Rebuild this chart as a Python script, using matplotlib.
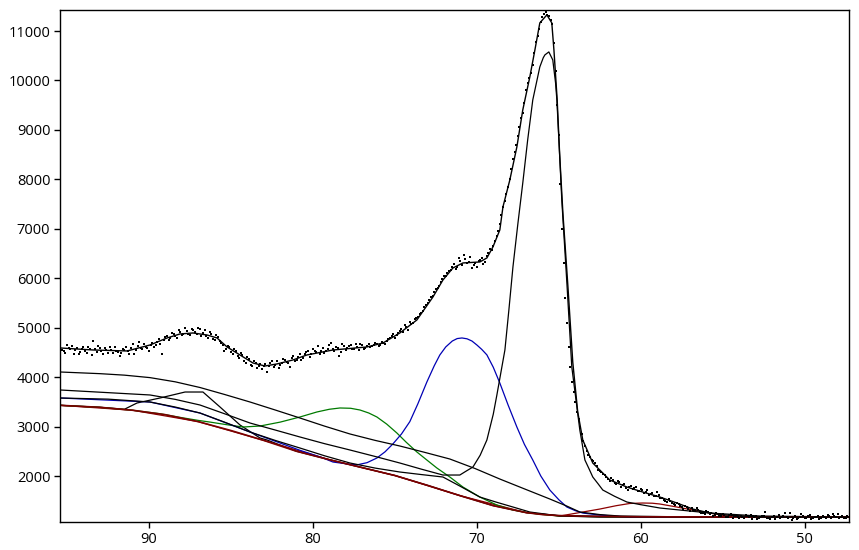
import numpy as np
import matplotlib.pyplot as plt

plt.rcParams['font.family'] = ['Open Sans', 'DejaVu Sans']

# measured counts, 0.2 eV steps starting at 95.4 eV (going down)
start_energy = 95.4
energy_step = 0.2
counts = [
    4600, 4520, 4640, 4560, 4470, 4590, 4510, 4600, 4480, 4560,
    4740, 4500, 4580, 4470, 4550, 4610, 4490, 4530, 4430, 4570,
    4600, 4470, 4680, 4540, 4720, 4560, 4610, 4520, 4700, 4640,
    4780, 4470, 4820, 4760, 4900, 4830, 4960, 4850, 4990, 4880,
    4980, 4920, 5000, 4840, 4950, 4800, 4880, 4760, 4810, 4700,
    4520, 4620, 4500, 4560, 4420, 4480, 4330, 4400, 4250, 4330,
    4180, 4260, 4220, 4100, 4290, 4200, 4330, 4250, 4370, 4300,
    4200, 4420, 4350, 4470, 4380, 4500, 4410, 4560, 4500, 4460,
    4590, 4520, 4640, 4560, 4600, 4420, 4680, 4550, 4620, 4570,
    4680, 4540, 4640, 4580, 4680, 4620, 4700, 4630, 4720, 4680,
    4770, 4840, 4790, 4900, 4980, 5050, 4960, 5080, 5170, 5220,
    5300, 5420, 5490, 5620, 5730, 5800, 5920, 6050, 6100, 6170,
    6280, 6220, 6350, 6480, 6300, 6420, 6260, 6230, 6360, 6280,
    6450, 6600, 6660, 6850, 7100, 7450, 7700, 8000, 8420, 8700,
    9050, 9350, 9800, 10050, 10320, 10780, 11050, 11280, 11390, 11300,
    11150, 10200, 8900, 7000, 5600, 4600, 3900, 3500, 3150, 2850,
    2600, 2420, 2330, 2260, 2130, 2080, 2020, 1930, 1960, 1860,
    1900, 1780, 1830, 1720, 1800, 1760, 1700, 1740, 1660, 1720,
    1640, 1600, 1680, 1560, 1520, 1480, 1500, 1430, 1460, 1400,
    1340, 1380, 1300, 1310, 1360, 1270, 1250, 1300, 1230, 1200,
    1260, 1190, 1230, 1180, 1220, 1160, 1200, 1150, 1180, 1220,
    1170, 1130, 1200, 1160, 1190, 1270, 1150, 1180, 1140, 1210,
    1170, 1250, 1160, 1120, 1190, 1160, 1240, 1150, 1190, 1130,
    1170, 1200, 1150, 1180, 1220, 1160, 1190, 1240, 1170, 1150,
    1190,
]

# the in-between channels, starting at 95.3 eV
start_energy_mid = 95.3
counts_mid = [
    4550, 4480, 4590, 4620, 4540, 4470, 4560, 4520, 4600, 4450,
    4560, 4620, 4520, 4580, 4480, 4540, 4600, 4510, 4480, 4550,
    4520, 4590, 4470, 4620, 4580, 4660, 4590, 4650, 4610, 4720,
    4680, 4750, 4840, 4800, 4880, 4800, 4920, 4870, 4940, 4860,
    4950, 4880, 4970, 4890, 4830, 4920, 4780, 4850, 4740, 4640,
    4560, 4600, 4470, 4520, 4390, 4450, 4290, 4360, 4220, 4290,
    4230, 4170, 4260, 4220, 4320, 4240, 4180, 4290, 4350, 4280,
    4390, 4320, 4400, 4350, 4470, 4530, 4460, 4520, 4620, 4530,
    4480, 4570, 4690, 4520, 4590, 4500, 4620, 4580, 4650, 4560,
    4610, 4660, 4570, 4630, 4600, 4650, 4680, 4640, 4700, 4740,
    4800, 4880, 4850, 4940, 4920, 5020, 5110, 5100, 5200, 5280,
    5330, 5460, 5560, 5640, 5780, 5840, 5990, 6040, 6150, 6220,
    6190, 6410, 6260, 6380, 6330, 6210, 6300, 6340, 6400, 6330,
    6520, 6580, 6750, 6950, 7280, 7560, 7850, 8200, 8550, 8880,
    9250, 9550, 9950, 10150, 10550, 10900, 11180, 11340, 11330, 11220,
    10750, 9500, 7900, 6300, 5100, 4200, 3700, 3300, 3000, 2700,
    2500, 2380, 2300, 2200, 2110, 2050, 1990, 1900, 1920, 1830,
    1870, 1810, 1760, 1780, 1730, 1770, 1690, 1720, 1680, 1610,
    1660, 1590, 1620, 1550, 1500, 1530, 1460, 1420, 1440, 1370,
    1400, 1330, 1350, 1290, 1320, 1260, 1230, 1270, 1250, 1210,
    1230, 1200, 1210, 1170, 1240, 1190, 1170, 1200, 1160, 1190,
    1210, 1170, 1140, 1180, 1200, 1160, 1130, 1190, 1170, 1150,
    1200, 1180, 1260, 1160, 1140, 1180, 1200, 1160, 1220, 1150,
    1180, 1140, 1190, 1160, 1200, 1230, 1170, 1150, 1200, 1160,
]

# fitted envelope
env_x = [95.43, 93.41, 91.34, 89.94, 88.90, 88.11, 87.32, 86.46, 85.85, 85.24,
         84.45, 83.66, 82.93, 82.20, 81.22, 80.37, 78.78, 76.71, 75.73, 74.70,
         73.66, 72.68, 72.07, 71.46, 70.85, 69.82, 69.39, 69.02, 68.60, 68.41,
         67.99, 67.56, 67.20, 66.77, 66.46, 66.16, 65.73, 65.43, 65.30, 65.10,
         64.95, 64.75, 64.45, 64.15, 63.85, 63.54, 62.93, 61.89, 60.85, 59.88,
         58.84, 57.80, 56.83, 55.79, 54.76, 52.74, 47.32]
env_y = [4590, 4549, 4529, 4650, 4792, 4873, 4893, 4852, 4792, 4610,
         4448, 4286, 4225, 4266, 4347, 4448, 4549, 4610, 4690, 4893,
         5156, 5621, 5965, 6208, 6309, 6329, 6410, 6633, 6977, 7442,
         7988, 8656, 9404, 10072, 10618, 11164, 11326, 11164, 10618, 9600,
         8500, 7300, 5850, 4300, 3300, 2728, 2263, 1919, 1777, 1676,
         1575, 1454, 1332, 1251, 1211, 1170, 1170]

# background
bg_x = [95.43, 93, 91, 89, 87, 85, 83, 81, 79, 77, 75, 73, 71, 69, 67, 66, 65, 63, 60, 47.32]
bg_y = [3430, 3390, 3330, 3240, 3100, 2920, 2720, 2500, 2330, 2170, 2010, 1810, 1600, 1400,
        1260, 1220, 1200, 1185, 1175, 1170]

# broad component (top black line)
c1_x = [95.43, 92.99, 91.5, 89.94, 88.4, 86.89, 85.4, 83.84, 82.3, 80.79,
        79.3, 77.74, 76.2, 74.70, 73.2, 71.65, 70.1, 68.60, 67.1, 65.55,
        64.5, 63.72, 62.5, 61.28, 56.40, 47.32]
c1_y = [4104, 4070, 4040, 3990, 3905, 3790, 3650, 3497, 3335, 3173,
        3010, 2850, 2720, 2607, 2480, 2344, 2150, 1939, 1740, 1535,
        1390, 1272, 1220, 1191, 1170, 1170]

# main peak ~65.6 eV
c2_x = [95.43, 89.94, 88.4, 86.89, 85.4, 83.84, 82.3, 80.79, 79.3, 77.74,
        76.2, 74.70, 73.4, 72.07, 71.04, 70.7, 70.24, 69.8, 69.39, 69.0,
        68.78, 68.29, 68.05, 67.80, 67.5, 67.20, 66.9, 66.59, 66.16, 65.95,
        65.85, 65.61, 65.37, 65.2, 65.12, 64.95, 64.82, 64.65, 64.51, 64.35,
        64.21, 63.95, 63.72, 63.55, 63.41, 63.15, 62.93, 62.6, 62.32, 61.6,
        60.85, 60.0, 58.84, 55.79, 52.74, 47.32]
c2_y = [3740, 3639, 3550, 3436, 3260, 3072, 2930, 2789, 2655, 2526,
        2395, 2263, 2140, 2020, 2020, 2090, 2182, 2420, 2728, 3250,
        3639, 4549, 5350, 6228, 7100, 7927, 8800, 9606, 10274, 10460,
        10517, 10577, 10415, 9950, 9606, 8480, 7583, 6660, 5904, 5000,
        4205, 3530, 2930, 2600, 2324, 2140, 1980, 1840, 1717, 1590,
        1474, 1420, 1353, 1251, 1191, 1170]

# third black component
c3_x = [95.43, 92.5, 89.94, 88.4, 86.89, 85.4, 83.84, 82.3, 80.79, 79.3,
        77.74, 76.2, 74.70, 73.4, 72.07, 71.0, 69.82, 68.8, 67.80, 66.77,
        64.94, 62.50, 47.32]
c3_y = [3578, 3555, 3497, 3395, 3274, 3090, 2890, 2720, 2566, 2410,
        2263, 2160, 2081, 2030, 1980, 1790, 1575, 1470, 1373, 1272,
        1191, 1170, 1170]

# small peak ~87 eV
c4_x = [95.43, 93, 91.5, 90.73, 89.33, 87.80, 86.71, 85.67, 84.45, 83.23,
        82.80, 82.01, 81, 79, 77, 75, 73, 71, 69, 67, 65, 60, 47.32]
c4_y = [3430, 3390, 3350, 3477, 3578, 3699, 3699, 3396, 3032, 2769,
        2728, 2627, 2500, 2330, 2170, 2010, 1810, 1600, 1400, 1260, 1200, 1175, 1170]

# green peak ~78 eV
gr_x = [95.43, 93, 91, 89.33, 88, 87, 86.3, 85.3, 84.27, 83.23,
        82.0, 80.79, 79.76, 79.0, 78.35, 77.7, 77.13, 76.6, 76.10, 75.5,
        74.88, 74.3, 73.66, 73.0, 72.44, 71.65, 70.85, 69.82, 68.78, 67.80,
        66.77, 65.8, 64.94, 62, 47.32]
gr_y = [3430, 3390, 3330, 3260, 3180, 3125, 3092, 3040, 2991, 3011,
        3090, 3194, 3295, 3350, 3376, 3370, 3335, 3275, 3194, 3050,
        2870, 2680, 2486, 2310, 2162, 1980, 1777, 1575, 1413, 1312,
        1251, 1215, 1191, 1172, 1170]

# blue peak ~71 eV
bl_x = [95.43, 89.94, 86.89, 83.84, 80.79, 79.5, 78.78, 77.8, 77.32, 76.7,
        76.10, 75.6, 75.12, 74.6, 74.09, 73.6, 73.05, 72.6, 72.26, 71.9,
        71.5, 71.2, 70.91, 70.6, 70.3, 70.0, 69.7, 69.39, 69.0, 68.6,
        68.1, 67.56, 67.1, 66.59, 66.1, 65.55, 65.0, 64.51, 64.0, 63.54,
        62.5, 61.5, 60.67, 47.32]
bl_y = [3578, 3497, 3274, 2890, 2520, 2380, 2283, 2240, 2225, 2270,
        2364, 2490, 2650, 2850, 3100, 3460, 3902, 4230, 4448, 4610,
        4730, 4780, 4792, 4775, 4730, 4650, 4560, 4450, 4200, 3881,
        3440, 2991, 2640, 2324, 2000, 1717, 1520, 1373, 1300, 1251,
        1211, 1185, 1170, 1170]

# red peak ~60 eV
rd_x = [95.43, 91, 87, 83, 79, 75, 71, 67, 64.94, 63.90, 62.50, 61.5, 60.67,
        59.88, 59.3, 58.84, 58.0, 56.83, 55.79, 54.76, 52.74, 47.32]
rd_y = [3430, 3330, 3100, 2720, 2330, 2010, 1600, 1260, 1191, 1251, 1332, 1400, 1445,
        1454, 1450, 1434, 1385, 1312, 1251, 1191, 1170, 1170]


fig = plt.figure(figsize=(8.59, 5.5), dpi=100)
ax = fig.add_axes([60 / 859, 28 / 550, 789 / 859, 512 / 550])

lw = 0.9
ax.plot(c4_x, c4_y, color='black', lw=lw)
ax.plot(rd_x, rd_y, color='#8b0000', lw=lw)
ax.plot(gr_x, gr_y, color='#007a00', lw=lw)
ax.plot(bl_x, bl_y, color='#0000b4', lw=lw)
ax.plot(c3_x, c3_y, color='black', lw=lw)
ax.plot(c1_x, c1_y, color='black', lw=lw)
ax.plot(c2_x, c2_y, color='black', lw=lw)
ax.plot(bg_x, bg_y, color='#7a0000', lw=1.2)
ax.plot(env_x, env_y, color='black', lw=1.0)

energies = start_energy - energy_step * np.arange(len(counts))
energies_mid = start_energy_mid - energy_step * np.arange(len(counts_mid))
ax.scatter(energies, counts, s=3, marker='s', color='black', linewidths=0, zorder=5)
ax.scatter(energies_mid, counts_mid, s=3, marker='s', color='black', linewidths=0, zorder=5)

ax.set_xlim(95.43, 47.3)
ax.set_ylim(1070, 11425)
ax.set_xticks([90, 80, 70, 60, 50])
ax.set_yticks(list(range(2000, 11001, 1000)))
ax.tick_params(direction='out', length=4, width=1, labelsize=10.5, colors='black',
               top=False, right=False, pad=3)
for sp in ax.spines.values():
    sp.set_linewidth(1)
    sp.set_color('black')

fig.savefig('out.png', dpi=100)
